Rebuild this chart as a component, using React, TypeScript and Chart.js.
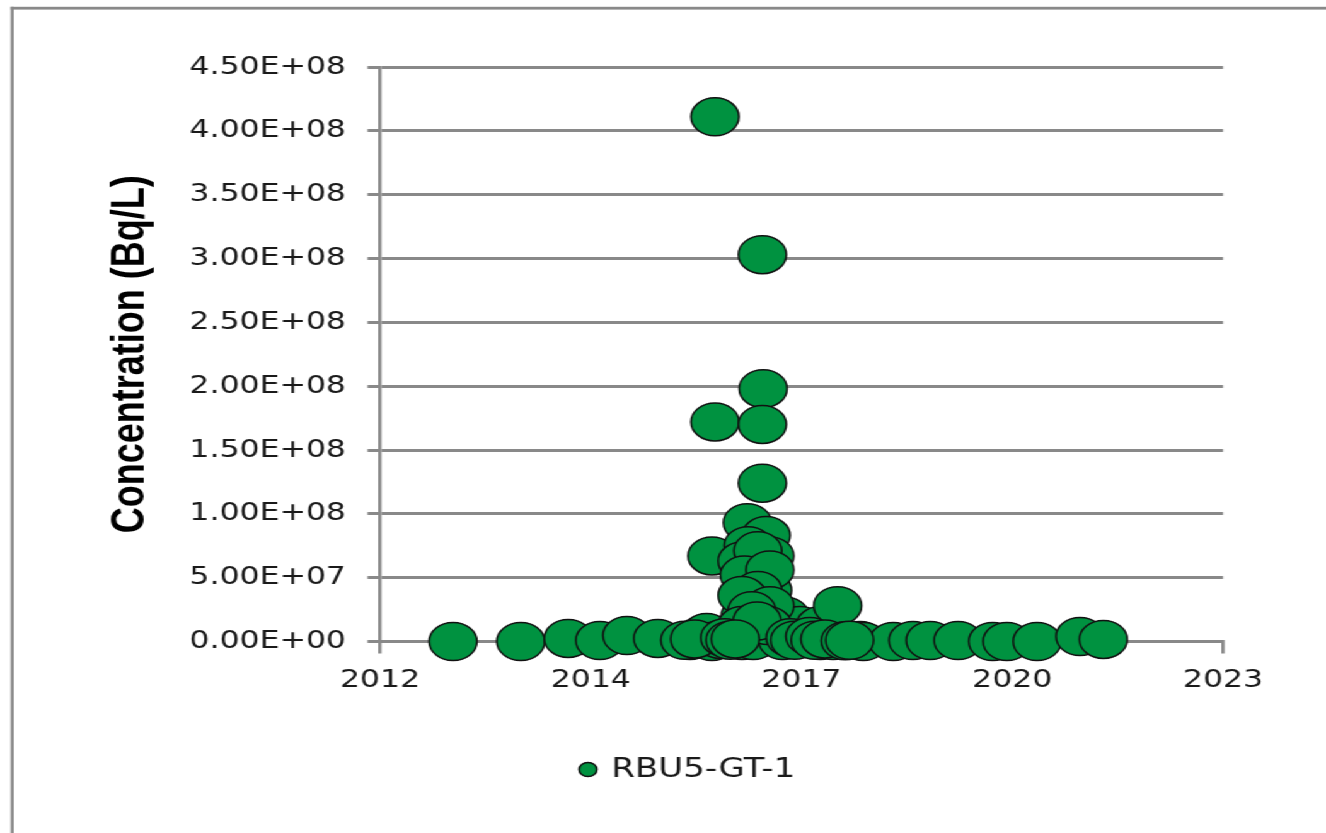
import React, { useEffect, useRef } from "react";
import { Chart, registerables } from "chart.js";

Chart.register(...registerables);

// Sample dates (decimal years) and concentrations (Bq/L) for RBU5-GT-1
const sampleYears: number[] = [
  2013.07, 2013.97, 2014.6, 2015.02, 2015.38, 2015.79, 2016.22, 2016.35, 2016.44, 2016.51,
  2016.62, 2016.55, 2016.55, 2016.51, 2017.18, 2017.19, 2017.18, 2017.18, 2016.98, 2017.23,
  2016.99, 2017.28, 2017.04, 2017.15, 2016.99, 2017.25, 2017.08, 2016.95, 2017.21, 2017.02,
  2017.35, 2017.15, 2016.91, 2017.06, 2017.45, 2017.48, 2017.68, 2017.77, 2017.95, 2017.95,
  2018.12, 2018.18, 2018.48, 2018.52, 2018.92, 2019.18, 2019.41, 2019.78, 2020.24, 2020.43,
  2020.83, 2021.4, 2021.71,
  2016.91, 2017.12, 2016.94, 2017.28, 2017.12, 2016.91, 2017.28, 2017.04, 2016.91, 2017.25,
  2017.11,
  2016.15, 2016.28, 2016.68, 2016.75, 2016.82, 2017.55, 2017.61, 2017.81, 2017.88, 2018.01,
  2018.28, 2018.34,
];
const concentrations: number[] = [
  0, 0, 2.4e6, 0.8e6, 4.7e6, 2.4e6, 0.8e6, 3.9e6, 7e6, 0,
  1.6e6, 4.11e8, 1.72e8, 6.7e7, 3.03e8, 1.98e8, 1.7e8, 1.24e8, 9.3e7, 8.3e7,
  7.5e7, 6.7e7, 6.0e7, 5.2e7, 4.4e7, 4.0e7, 3.2e7, 2.0e7, 2.2e7, 1.0e7,
  8.6e6, 4.7e6, 0.8e6, 0.8e6, 0.8e6, 2.0e7, 1.25e7, 2.4e6, 1.25e7, 0.8e6,
  0.8e6, 2.8e7, 0.8e6, 0, 0, 0.8e6, 0.8e6, 0.8e6, 0, 0,
  0, 3.9e6, 1.6e6,
  6.3e7, 7.1e7, 5.2e7, 5.6e7, 4.0e7, 3.6e7, 2.8e7, 2.4e7, 1.25e7, 1.25e7,
  1.6e7,
  1.0e6, 2.0e6, 3.0e6, 1.0e6, 2.0e6, 3.0e6, 1.0e6, 4.0e6, 1.0e6, 2.0e6,
  0.5e6, 1.0e6,
];
const seriesName = "RBU5-GT-1";

const xTickValues: number[] = [2012.1, 2014.9, 2017.7, 2020.5, 2023.3];
const xTickLabels: string[] = ["2012", "2014", "2017", "2020", "2023"];
const yTickValues: number[] = [0, 5e7, 1e8, 1.5e8, 2e8, 2.5e8, 3e8, 3.5e8, 4e8, 4.5e8];
const yTickLabels: string[] = [
  "0.00E+00", "5.00E+07", "1.00E+08", "1.50E+08", "2.00E+08",
  "2.50E+08", "3.00E+08", "3.50E+08", "4.00E+08", "4.50E+08",
];
const yTitle = "Concentration (Bq/L)";

const W = 1052;
const H = 833;
const SX = 1326 / W;
const GRID = "#898989";
const GREEN = "#009240";

export default function App() {
  const ref = useRef<HTMLCanvasElement | null>(null);
  useEffect(() => {
    if (!ref.current) return;
    const framePlugin = {
      id: "frame",
      beforeDraw(chart: any) {
        const ctx = chart.ctx;
        ctx.save();
        ctx.fillStyle = "#ffffff";
        ctx.fillRect(0, 0, chart.width, chart.height);
        ctx.fillStyle = GRID;
        ctx.fillRect(8.5, 6.8, chart.width, 2.8);
        ctx.fillRect(8.5, 6.8, 2.4, chart.height);
        ctx.restore();
      },
    };
    const legendShift = {
      id: "legendShift",
      afterLayout(chart: any) {
        const lg = chart.legend;
        if (lg) {
          lg.left += 61;
          lg.right += 61;
        }
      },
    };
    const chart = new Chart(ref.current, {
      type: "scatter",
      data: {
        datasets: [
          {
            label: seriesName,
            data: sampleYears.map((x, i) => ({ x, y: concentrations[i] })),
            backgroundColor: GREEN,
            borderColor: "#111111",
            borderWidth: 1.5,
            pointRadius: 19,
            pointHoverRadius: 19,
            pointStyle: "circle",
            clip: false as any,
          },
        ],
      },
      options: {
        animation: false,
        responsive: false,
        devicePixelRatio: 1,
        layout: { padding: { left: 0, top: 67, right: W - 970.3, bottom: 40 } },
        plugins: {
          tooltip: { enabled: false },
          legend: {
            position: "bottom",
            labels: {
              usePointStyle: true,
              pointStyle: "circle",
              boxHeight: 10,
              boxWidth: 10,
              padding: 10,
              color: "#1a1a1a",
              font: { family: "'DejaVu Sans', Verdana, sans-serif", size: 27 },
            },
          },
        },
        scales: {
          x: {
            type: "linear",
            min: xTickValues[0],
            max: xTickValues[xTickValues.length - 1],
            afterBuildTicks: (scale: any) => {
              scale.ticks = xTickValues.map((v) => ({ value: v }));
            },
            afterFit: (scale: any) => {
              scale.height = 104.5;
            },
            grid: {
              display: true,
              drawOnChartArea: false,
              drawTicks: true,
              tickLength: 12,
              color: GRID,
              lineWidth: 2.6,
            },
            border: { display: true, color: GRID, width: 3 },
            ticks: {
              autoSkip: false,
              maxRotation: 0,
              padding: 12,
              color: "#1a1a1a",
              font: { family: "'DejaVu Sans', Verdana, sans-serif", size: 25 },
              callback: (_v: any, i: number) => xTickLabels[i],
            },
          },
          y: {
            type: "linear",
            min: yTickValues[0],
            max: yTickValues[yTickValues.length - 1],
            afterBuildTicks: (scale: any) => {
              scale.ticks = yTickValues.map((v) => ({ value: v }));
            },
            afterFit: (scale: any) => {
              scale.width = 301.5;
            },
            grid: {
              display: true,
              drawTicks: true,
              tickLength: 10,
              color: GRID,
              lineWidth: 3,
            },
            border: { display: true, color: GRID, width: 2.6 },
            ticks: {
              padding: 17,
              color: "#1a1a1a",
              font: { family: "'DejaVu Sans', Verdana, sans-serif", size: 25 },
              callback: (_v: any, i: number) => yTickLabels[i],
            },
            title: {
              display: true,
              text: yTitle,
              color: "#000000",
              padding: { top: 82, bottom: 0 },
              font: { family: "'Liberation Sans', Arial, sans-serif", size: 36, weight: "bold" },
            },
          },
        },
      },
      plugins: [framePlugin, legendShift],
    });
    return () => chart.destroy();
  }, []);
  return (
    <div
      style={{
        position: "fixed",
        left: 0,
        top: 0,
        width: W,
        height: H,
        transform: `scaleX(${SX})`,
        transformOrigin: "0 0",
        background: "#fff",
      }}
    >
      <canvas ref={ref} width={W} height={H} style={{ width: W, height: H, display: "block" }} />
    </div>
  );
}
